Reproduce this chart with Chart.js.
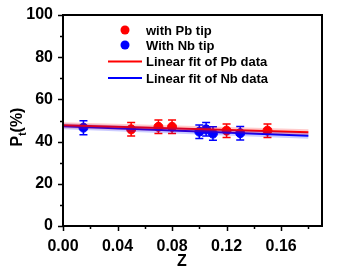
<!DOCTYPE html>
<html lang="en">
<head>
  <meta charset="UTF-8">
  <title>Pt vs Z</title>
  <script src="https://cdn.jsdelivr.net/npm/chart.js"></script>
  <style>
    html, body { margin: 0; padding: 0; background: #fff; }
    #wrap { width: 360px; height: 270px; }
  </style>
</head>
<body>
  <div id="wrap"><canvas id="ptChart" width="360" height="270"></canvas></div>

  <script>
    // data
    const pbZ = [0.05, 0.07, 0.08, 0.12, 0.15];
    const pbP = [45.8, 47.0, 47.0, 45.2, 45.2];
    const pbErr = [3.2, 3.2, 3.2, 3.2, 3.2];

    const nbZ = [0.015, 0.10, 0.105, 0.11, 0.13];
    const nbP = [46.6, 44.7, 45.8, 43.8, 44.0];
    const nbErr = [3.3, 3.2, 3.2, 3.2, 3.2];

    const fitZ = [0, 0.18];
    const pbFit = [47.8, 44.4];
    const nbFit = [47.3, 42.8];

    const xTicks = [0, 0.04, 0.08, 0.12, 0.16];
    const yTicks = [0, 20, 40, 60, 80, 100];

    const legendLabels = ['with Pb tip', 'With Nb tip', 'Linear fit of Pb data', 'Linear fit of Nb data'];

    const RED = '#ff0000';
    const BLUE = '#0000ff';
    const FONT = '"Liberation Sans", Arial, sans-serif';

    function pts(xs, ys) {
      return xs.map((x, i) => ({ x: x, y: ys[i] }));
    }

    // error bars, frame, ticks, legend and axis titles
    const extras = {
      id: 'extras',
      beforeDatasetsDraw(chart) {
        const ctx = chart.ctx;
        const xs = chart.scales.x, ys = chart.scales.y;
        const draw = (zs, ps, es, color) => {
          ctx.save();
          ctx.strokeStyle = color;
          ctx.lineWidth = 1.5;
          zs.forEach((z, i) => {
            const px = xs.getPixelForValue(z);
            const top = ys.getPixelForValue(ps[i] + es[i]);
            const bot = ys.getPixelForValue(ps[i] - es[i]);
            ctx.beginPath();
            ctx.moveTo(px, top); ctx.lineTo(px, bot);
            ctx.moveTo(px - 4, top); ctx.lineTo(px + 4, top);
            ctx.moveTo(px - 4, bot); ctx.lineTo(px + 4, bot);
            ctx.stroke();
          });
          ctx.restore();
        };
        draw(pbZ, pbP, pbErr, RED);
        draw(nbZ, nbP, nbErr, BLUE);
      },
      afterDraw(chart) {
        const ctx = chart.ctx;
        const a = chart.chartArea;
        const xs = chart.scales.x, ys = chart.scales.y;
        ctx.save();
        ctx.strokeStyle = '#000';
        ctx.lineWidth = 2;
        ctx.strokeRect(a.left, a.top, a.right - a.left, a.bottom - a.top);

        // ticks
        ctx.lineWidth = 1.5;
        ctx.beginPath();
        for (let v = 0; v <= 0.1801; v += 0.02) {
          const px = Math.round(xs.getPixelForValue(v)) + 0.5;
          const major = Math.abs(v / 0.04 - Math.round(v / 0.04)) < 1e-6;
          ctx.moveTo(px, a.bottom);
          ctx.lineTo(px, a.bottom + (major ? 5 : 3));
        }
        for (let v = 0; v <= 100; v += 10) {
          const py = Math.round(ys.getPixelForValue(v)) + 0.5;
          const major = v % 20 === 0;
          ctx.moveTo(a.left, py);
          ctx.lineTo(a.left - (major ? 5 : 3), py);
        }
        ctx.stroke();

        // legend
        ctx.font = 'bold 13px ' + FONT;
        ctx.textBaseline = 'middle';
        const rows = [30, 45, 61.5, 78];
        ctx.fillStyle = RED;
        ctx.beginPath(); ctx.arc(125, rows[0], 4.5, 0, Math.PI * 2); ctx.fill();
        ctx.fillStyle = BLUE;
        ctx.beginPath(); ctx.arc(125, rows[1], 4.5, 0, Math.PI * 2); ctx.fill();
        ctx.lineWidth = 2;
        ctx.strokeStyle = RED;
        ctx.beginPath(); ctx.moveTo(108, rows[2]); ctx.lineTo(142, rows[2]); ctx.stroke();
        ctx.strokeStyle = BLUE;
        ctx.beginPath(); ctx.moveTo(108, rows[3]); ctx.lineTo(142, rows[3]); ctx.stroke();
        ctx.fillStyle = '#000';
        ctx.textAlign = 'left';
        legendLabels.forEach((t, i) => ctx.fillText(t, 146, rows[i] + 1));

        // x title
        ctx.font = 'bold 16px ' + FONT;
        ctx.textAlign = 'center';
        ctx.fillText('Z', 182, 262);
        ctx.restore();

        // rotated y title with subscript
        ctx.save();
        ctx.translate(18, 127);
        ctx.rotate(-Math.PI / 2);
        ctx.textBaseline = 'middle';
        ctx.textAlign = 'left';
        ctx.fillStyle = '#000';
        ctx.font = 'bold 16px ' + FONT;
        const wP = ctx.measureText('P').width;
        const wRest = ctx.measureText('(%)').width;
        ctx.font = 'bold 10px ' + FONT;
        const wT = ctx.measureText('t').width;
        const x0 = -(wP + wT + wRest) / 2;
        ctx.font = 'bold 16px ' + FONT;
        ctx.fillText('P', x0, 0);
        ctx.fillText('(%)', x0 + wP + wT, 0);
        ctx.font = 'bold 10px ' + FONT;
        ctx.fillText('t', x0 + wP, 5);
        ctx.restore();
      }
    };

    new Chart(document.getElementById('ptChart'), {
      type: 'scatter',
      data: {
        datasets: [
          {
            label: legendLabels[2] + ' band',
            type: 'line',
            data: pts(fitZ, pbFit),
            borderColor: 'rgba(255,0,0,0.2)',
            borderWidth: 6,
            pointRadius: 0,
            fill: false
          },
          {
            label: legendLabels[3] + ' band',
            type: 'line',
            data: pts(fitZ, nbFit),
            borderColor: 'rgba(0,0,255,0.2)',
            borderWidth: 6,
            pointRadius: 0,
            fill: false
          },
          {
            label: legendLabels[2],
            type: 'line',
            data: pts(fitZ, pbFit),
            borderColor: RED,
            borderWidth: 2,
            pointRadius: 0,
            fill: false
          },
          {
            label: legendLabels[3],
            type: 'line',
            data: pts(fitZ, nbFit),
            borderColor: BLUE,
            borderWidth: 2,
            pointRadius: 0,
            fill: false
          },
          {
            label: legendLabels[0],
            data: pts(pbZ, pbP),
            backgroundColor: RED,
            borderColor: RED,
            pointRadius: 4.5
          },
          {
            label: legendLabels[1],
            data: pts(nbZ, nbP),
            backgroundColor: BLUE,
            borderColor: BLUE,
            pointRadius: 4.5
          }
        ]
      },
      options: {
        responsive: false,
        animation: false,
        layout: { padding: { top: 15, right: 38, left: 0, bottom: 0 } },
        plugins: {
          legend: { display: false },
          tooltip: { enabled: false }
        },
        scales: {
          x: {
            type: 'linear',
            min: 0,
            max: 0.19,
            afterBuildTicks(s) { s.ticks = xTicks.map(v => ({ value: v })); },
            afterFit(s) { s.height = 44; },
            grid: { display: false },
            border: { display: false },
            ticks: {
              color: '#000',
              padding: 3,
              maxRotation: 0,
              font: { family: FONT, size: 16, weight: 'bold' },
              callback: v => v.toFixed(2)
            }
          },
          y: {
            min: 0,
            max: 100,
            afterBuildTicks(s) { s.ticks = yTicks.map(v => ({ value: v })); },
            afterFit(s) { s.width = 63; },
            grid: { display: false },
            border: { display: false },
            ticks: {
              color: '#000',
              padding: 2,
              font: { family: FONT, size: 16, weight: 'bold' }
            }
          }
        }
      },
      plugins: [extras]
    });
  </script>
</body>
</html>
